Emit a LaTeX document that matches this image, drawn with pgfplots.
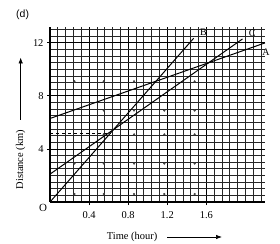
\documentclass[border=0pt]{standalone}
\usepackage{pgfplots}
\pgfplotsset{compat=1.18}
\usetikzlibrary{arrows.meta}
\usepackage{fontspec}
\setmainfont{Liberation Serif}
\newfontfamily\sansf{Liberation Sans}
\begin{document}
\begin{tikzpicture}
\useasboundingbox (-50bp,-42bp) rectangle (230bp,202bp);
\begin{axis}[
  at={(0,0)}, anchor=origin,
  scale only axis, width=215bp, height=175bp,
  xmin=0, xmax=2.2, ymin=0, ymax=13.2,
  axis x line=bottom, axis y line=left,
  axis line style={-, line width=1.5pt},
  xtick={0.4,0.8,1.2,1.6}, ytick={4,8,12},
  xticklabels={0.4,0.8,1.2,1.6},
  minor xtick={0.08,0.16,0.24,0.32,0.48,0.56,0.64,0.72,0.88,0.96,1.04,1.12,1.28,1.36,1.44,1.52,1.68,1.76,1.84,1.92,2.0,2.08,2.16},
  minor ytick={0.5,1,1.5,2,2.5,3,3.5,4.5,5,5.5,6,6.5,7,7.5,8.5,9,9.5,10,10.5,11,11.5,12.5,13},
  grid=both,
  major grid style={black, line width=0.9pt},
  minor grid style={black!85, line width=0.75pt},
  tick align=outside, major tick length=3bp, minor tick length=0pt,
  tick style={black, line width=0.9pt},
  /pgf/number format/assume math mode=true,
  tick label style={font=\fontsize{10.5}{12}\selectfont},
  xticklabel style={yshift=-3bp},
  clip=false,
]
% lines
\addplot[black, line width=1pt] coordinates {(0,6.3) (2.2,12.0)}; % A
\addplot[black, line width=1pt] coordinates {(0,0) (1.47,12.35)}; % B
\addplot[black, line width=1pt] coordinates {(0,2.1) (1.97,12.3)}; % C
\addplot[black, dashed, line width=0.8pt] coordinates {(0,5.2) (0.62,5.2)};
% graph-paper dots
\addplot[only marks, mark=*, mark size=0.9pt, black!75] coordinates {
 (0.25,0.6) (0.55,0.6) (0.86,0.6) (1.17,0.6) (1.48,0.6)
 (0.25,2.9) (0.55,2.9) (0.86,2.9) (1.17,2.9) (1.48,2.9)
 (0.55,5.1) (0.86,5.1) (1.17,5.1) (1.48,5.1)
 (0.55,6.9) (0.86,6.9) (1.17,6.9) (1.48,6.9)
 (0.25,9.1) (0.55,9.1) (0.86,9.1) (1.48,9.1)};
\node[font=\fontsize{10}{11}\selectfont] at (axis cs:1.57,12.8) {B};
\node[font=\fontsize{10}{11}\selectfont] at (axis cs:2.07,12.75) {C};
\node[font=\fontsize{10}{11}\selectfont] at (axis cs:2.21,11.3) {A};
\node[font=\fontsize{11}{12}\selectfont] at (axis cs:-0.07,-0.45) {O};
\node[font=\sansf\fontsize{10.5}{12}\selectfont] at (axis cs:-0.28,14.1) {(d)};
\node[rotate=90, font=\fontsize{10.5}{12}\selectfont] at (axis cs:-0.30,3.2) {Distance (km)};
\draw[-{Latex[length=6bp,width=4.5bp]}, line width=0.7pt] (axis cs:-0.30,6.2) -- (axis cs:-0.30,10.9);
\node[font=\fontsize{10.5}{12}\selectfont] at (axis cs:0.84,-2.64) {Time (hour)};
\draw[-{Latex[length=6bp,width=4.5bp]}, line width=0.7pt] (axis cs:1.2,-2.64) -- (axis cs:1.76,-2.64);
\end{axis}
\end{tikzpicture}
\end{document}
